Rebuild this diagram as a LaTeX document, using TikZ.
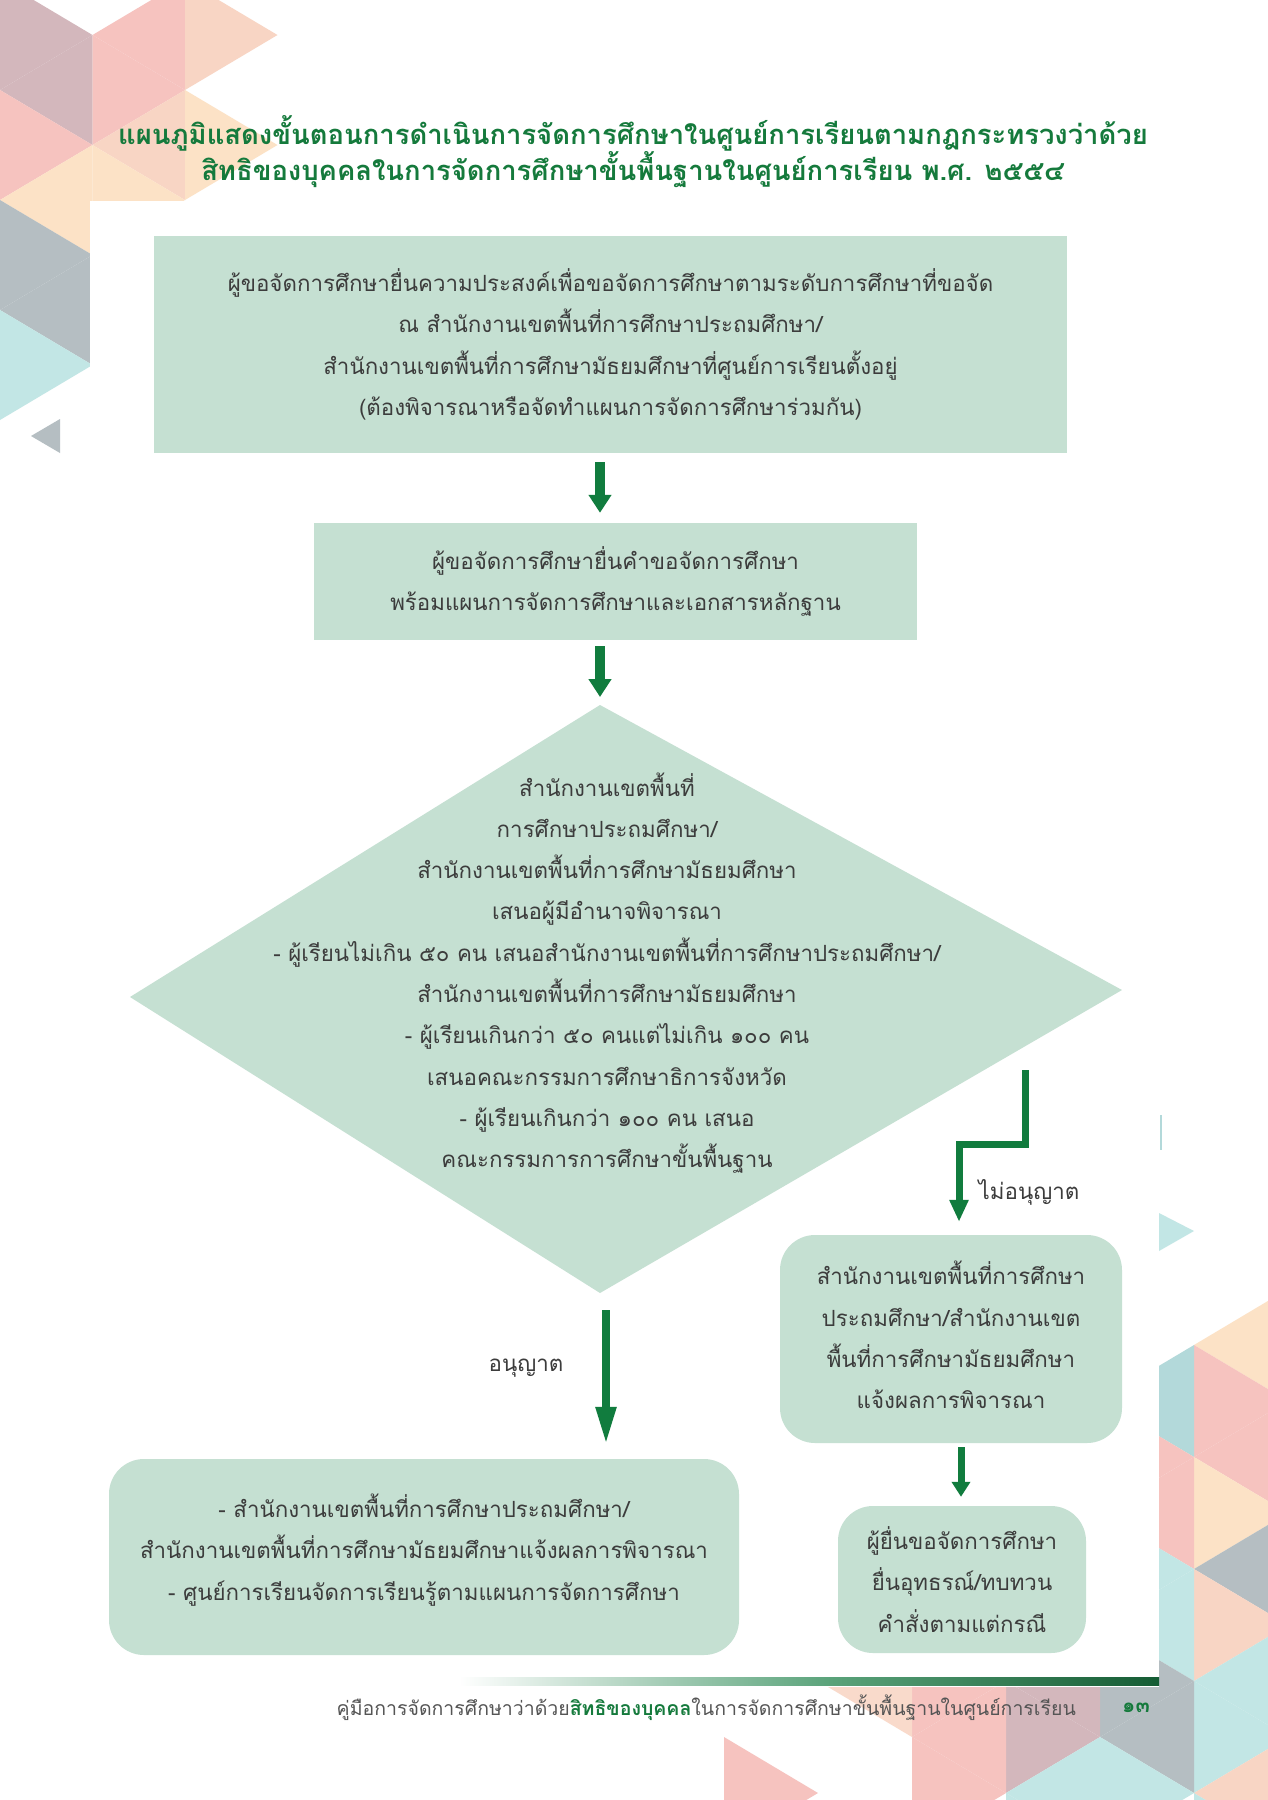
\documentclass[tikz,border=0pt]{standalone}
\usepackage{fontspec}
\setmainfont[Script=Thai]{Loma}
\usetikzlibrary{arrows.meta,calc}
\definecolor{boxfill}{HTML}{C5E0D2}
\definecolor{agreen}{HTML}{117C3E}
\definecolor{tgreen}{HTML}{157A3C}
\definecolor{txt}{HTML}{3C3C3C}
\definecolor{ftxt}{HTML}{555555}
\definecolor{cMauve}{HTML}{D3B7BC}
\definecolor{cPink}{HTML}{F6C3BF}
\definecolor{cPeach}{HTML}{F8D5C4}
\definecolor{cPeachL}{HTML}{F9DACB}
\definecolor{cOrange}{HTML}{FCE2C6}
\definecolor{cGray}{HTML}{B5BEC2}
\definecolor{cCyan}{HTML}{C2E6E5}
\definecolor{cTeal}{HTML}{B3D9DA}
\definecolor{barmid}{HTML}{5AA37A}
\definecolor{bardark}{HTML}{155C34}
\newcommand\tri[4]{\fill[#1] #2 -- #3 -- #4 -- cycle;}
\newcommand\bodyfont{\fontsize{22.3}{41.3}\selectfont}
\begin{document}
\begin{tikzpicture}[x=1pt,y=-1pt,
  box/.style={fill=boxfill, text=txt, align=center, font=\bodyfont, inner sep=0pt},
  rbox/.style={box, rounded corners=35pt},
  lbl/.style={text=txt, font=\bodyfont, inner sep=0pt},
  arrbase/.style={draw=agreen, line join=miter},
  arrA/.style={arrbase, line width=10pt, -{Triangle[width=22pt,length=18pt]}},
  arrB/.style={arrbase, line width=8pt, -{Triangle[width=19pt,length=38pt]}},
  arrC/.style={arrbase, line width=7pt, -{Triangle[width=18pt,length=22pt]}},
  arrD/.style={arrbase, line width=7pt, -{Triangle[width=18pt,length=15pt]}}]
\useasboundingbox (0,0) rectangle (1267,1800);
\fill[white] (0,0) rectangle (1267,1800);
% ---------- top-left decoration ----------
\tri{cMauve}{(0,-20)}{(0,90)}{(92.5,35)}
\tri{cMauve}{(92.5,35)}{(92.5,145)}{(0,90)}
\tri{cPink}{(0,90)}{(0,200)}{(92.5,145)}
\tri{cOrange}{(92.5,145)}{(92.5,255)}{(0,200)}
\tri{cGray}{(0,200)}{(0,310)}{(92.5,255)}
\tri{cGray}{(92.5,255)}{(92.5,365)}{(0,310)}
\tri{cCyan}{(0,310)}{(0,420)}{(92.5,365)}
\tri{cPink}{(185,-20)}{(185,90)}{(92.5,35)}
\tri{cPink}{(92.5,35)}{(92.5,145)}{(185,90)}
\tri{cPeach}{(185,90)}{(185,200)}{(92.5,145)}
\tri{cOrange}{(92.5,145)}{(92.5,255)}{(185,200)}
\tri{cPeach}{(185,-20)}{(185,90)}{(277.5,35)}
\tri{cOrange}{(185,90)}{(185,200)}{(277.5,145)}
\tri{cGray}{(31,436)}{(60,419)}{(60,453)}
% ---------- bottom-right decoration ----------
\tri{cOrange}{(1288,1289)}{(1288,1401)}{(1194,1345)}
\tri{cPink}{(1194,1345)}{(1194,1457)}{(1288,1401)}
\tri{cPink}{(1288,1401)}{(1288,1513)}{(1194,1457)}
\tri{cOrange}{(1194,1457)}{(1194,1569)}{(1288,1513)}
\tri{cGray}{(1288,1513)}{(1288,1625)}{(1194,1569)}
\tri{cPeach}{(1194,1569)}{(1194,1681)}{(1288,1625)}
\tri{cCyan}{(1288,1625)}{(1288,1737)}{(1194,1681)}
\tri{cCyan}{(1194,1681)}{(1194,1793)}{(1288,1737)}
\tri{cPeach}{(1288,1737)}{(1288,1849)}{(1194,1793)}
\tri{cCyan}{(1194,1793)}{(1194,1905)}{(1288,1849)}
\tri{cTeal}{(1194,1345)}{(1194,1457)}{(1100,1401)}
\tri{cPink}{(1100,1401)}{(1100,1513)}{(1194,1457)}
\tri{cPink}{(1194,1457)}{(1194,1569)}{(1100,1513)}
\tri{cCyan}{(1100,1513)}{(1100,1625)}{(1194,1569)}
\tri{cCyan}{(1194,1569)}{(1194,1681)}{(1100,1625)}
\tri{cGray}{(1100,1625)}{(1100,1737)}{(1194,1681)}
\tri{cGray}{(1194,1681)}{(1194,1793)}{(1100,1737)}
\tri{cCyan}{(1100,1737)}{(1100,1849)}{(1194,1793)}
\tri{cMauve}{(1100,1625)}{(1100,1737)}{(1006,1681)}
\tri{cMauve}{(1006,1681)}{(1006,1793)}{(1100,1737)}
\tri{cCyan}{(1100,1737)}{(1100,1849)}{(1006,1793)}
\tri{cCyan}{(1006,1793)}{(1006,1905)}{(1100,1849)}
\tri{cPink}{(912,1625)}{(912,1737)}{(1006,1681)}
\tri{cPink}{(1006,1681)}{(1006,1793)}{(912,1737)}
\tri{cPink}{(912,1737)}{(912,1849)}{(1006,1793)}
\tri{cPeachL}{(912,1625)}{(912,1737)}{(818,1681)}
\tri{cPink}{(724,1737)}{(724,1849)}{(818,1793)}
\tri{cCyan}{(1159,1213)}{(1159,1251)}{(1194,1231)}
% ---------- white page panel ----------
\fill[white] (90,201) rectangle (1159,1687);
\draw[cTeal, line width=2pt] (1161,1115) -- (1161,1150);
% ---------- footer bar ----------
\shade[left color=white, right color=barmid] (459,1677) rectangle (830,1685);
\shade[left color=barmid, right color=bardark] (830,1677) rectangle (1159,1685);
% ---------- title ----------
\node[align=center, text=tgreen, font=\fontsize{27.4}{36}\selectfont\bfseries, inner sep=0pt] (title) at (633,152)
  {แผนภูมิแสดงขั้นตอนการดำเนินการจัดการศึกษาในศูนย์การเรียนตามกฎกระทรวงว่าด้วย\\
   สิทธิของบุคคลในการจัดการศึกษาขั้นพื้นฐานในศูนย์การเรียน พ.ศ. ๒๕๕๔};
% ---------- boxes ----------
\node[box, minimum width=913pt, minimum height=217pt] (b1) at (610.5,344.5)
  {ผู้ขอจัดการศึกษายื่นความประสงค์เพื่อขอจัดการศึกษาตามระดับการศึกษาที่ขอจัด\\
   ณ สำนักงานเขตพื้นที่การศึกษาประถมศึกษา/\\
   สำนักงานเขตพื้นที่การศึกษามัธยมศึกษาที่ศูนย์การเรียนตั้งอยู่\\
   (ต้องพิจารณาหรือจัดทำแผนการจัดการศึกษาร่วมกัน)};
\node[box, minimum width=603pt, minimum height=117pt] (b2) at (615.5,581.5)
  {ผู้ขอจัดการศึกษายื่นคำขอจัดการศึกษา\\
   พร้อมแผนการจัดการศึกษาและเอกสารหลักฐาน};
% diamond
\coordinate (dT) at (600,705);
\coordinate (dR) at (1122,990);
\coordinate (dB) at (600,1293);
\coordinate (dL) at (130,997);
\fill[boxfill] (dT) -- (dR) -- (dB) -- (dL) -- cycle;
\node[lbl, align=center] (d) at (607,973)
  {สำนักงานเขตพื้นที่\\
   การศึกษาประถมศึกษา/\\
   สำนักงานเขตพื้นที่การศึกษามัธยมศึกษา\\
   เสนอผู้มีอำนาจพิจารณา\\
   - ผู้เรียนไม่เกิน ๕๐ คน เสนอสำนักงานเขตพื้นที่การศึกษาประถมศึกษา/\\
   สำนักงานเขตพื้นที่การศึกษามัธยมศึกษา\\
   - ผู้เรียนเกินกว่า ๕๐ คนแต่ไม่เกิน ๑๐๐ คน\\
   เสนอคณะกรรมการศึกษาธิการจังหวัด\\
   - ผู้เรียนเกินกว่า ๑๐๐ คน เสนอ\\
   คณะกรรมการการศึกษาขั้นพื้นฐาน};
\node[rbox, minimum width=342pt, minimum height=208pt] (b3) at (951,1339) {};
\node[lbl, align=center] (b3t) at ([yshift=4pt]b3.center)
  {สำนักงานเขตพื้นที่การศึกษา\\
   ประถมศึกษา/สำนักงานเขต\\
   พื้นที่การศึกษามัธยมศึกษา\\
   แจ้งผลการพิจารณา};
\node[rbox, minimum width=248pt, minimum height=147pt] (b4) at (962,1579.5)
  {ผู้ยื่นขอจัดการศึกษา\\
   ยื่นอุทธรณ์/ทบทวน\\
   คำสั่งตามแต่กรณี};
\node[rbox, minimum width=630pt, minimum height=196pt] (b5) at (424,1557) {};
\node[lbl, align=center] (b5t) at ([yshift=7pt]b5.center)
  {- สำนักงานเขตพื้นที่การศึกษาประถมศึกษา/\\
   สำนักงานเขตพื้นที่การศึกษามัธยมศึกษาแจ้งผลการพิจารณา\\
   - ศูนย์การเรียนจัดการเรียนรู้ตามแผนการจัดการศึกษา};
% ---------- arrows ----------
\draw[arrA, shorten <=9pt, shorten >=10pt] (b1.south -| dT) -- (b2.north -| dT);
\draw[arrA, shorten <=6pt, shorten >=8pt] (b2.south -| dT) -- (dT);
\draw[arrB, shorten <=17pt, shorten >=14pt] ([xshift=6pt]dB) -- ([xshift=6pt]dB |- b5.north);
\coordinate (e1) at (1025,1070);
\coordinate (e2) at (959,1144);
\draw[arrC, shorten >=13pt] (e1) -- (e1 |- e2) -- (e2) -- (b3.north -| e2);
\draw[arrD, shorten <=4pt, shorten >=9pt] ([xshift=10pt]b3.south) -- ([xshift=10pt]b3.south |- b4.north);
% ---------- labels ----------
\node[lbl] (lno) at (1029,1192) {ไม่อนุญาต};
\node[lbl] (lyes) at (526,1368) {อนุญาต};
% ---------- footer ----------
\node[anchor=east, text=ftxt, font=\fontsize{19.5}{24}\selectfont, inner sep=0pt] (foot) at (1076,1708)
  {คู่มือการจัดการศึกษาว่าด้วย\textcolor{tgreen}{\bfseries สิทธิของบุคคล}ในการจัดการศึกษาขั้นพื้นฐานในศูนย์การเรียน};
\node[text=tgreen, font=\fontsize{21}{25}\selectfont\bfseries, inner sep=0pt] (pg) at (1136,1708) {๑๓};
\end{tikzpicture}
\end{document}
